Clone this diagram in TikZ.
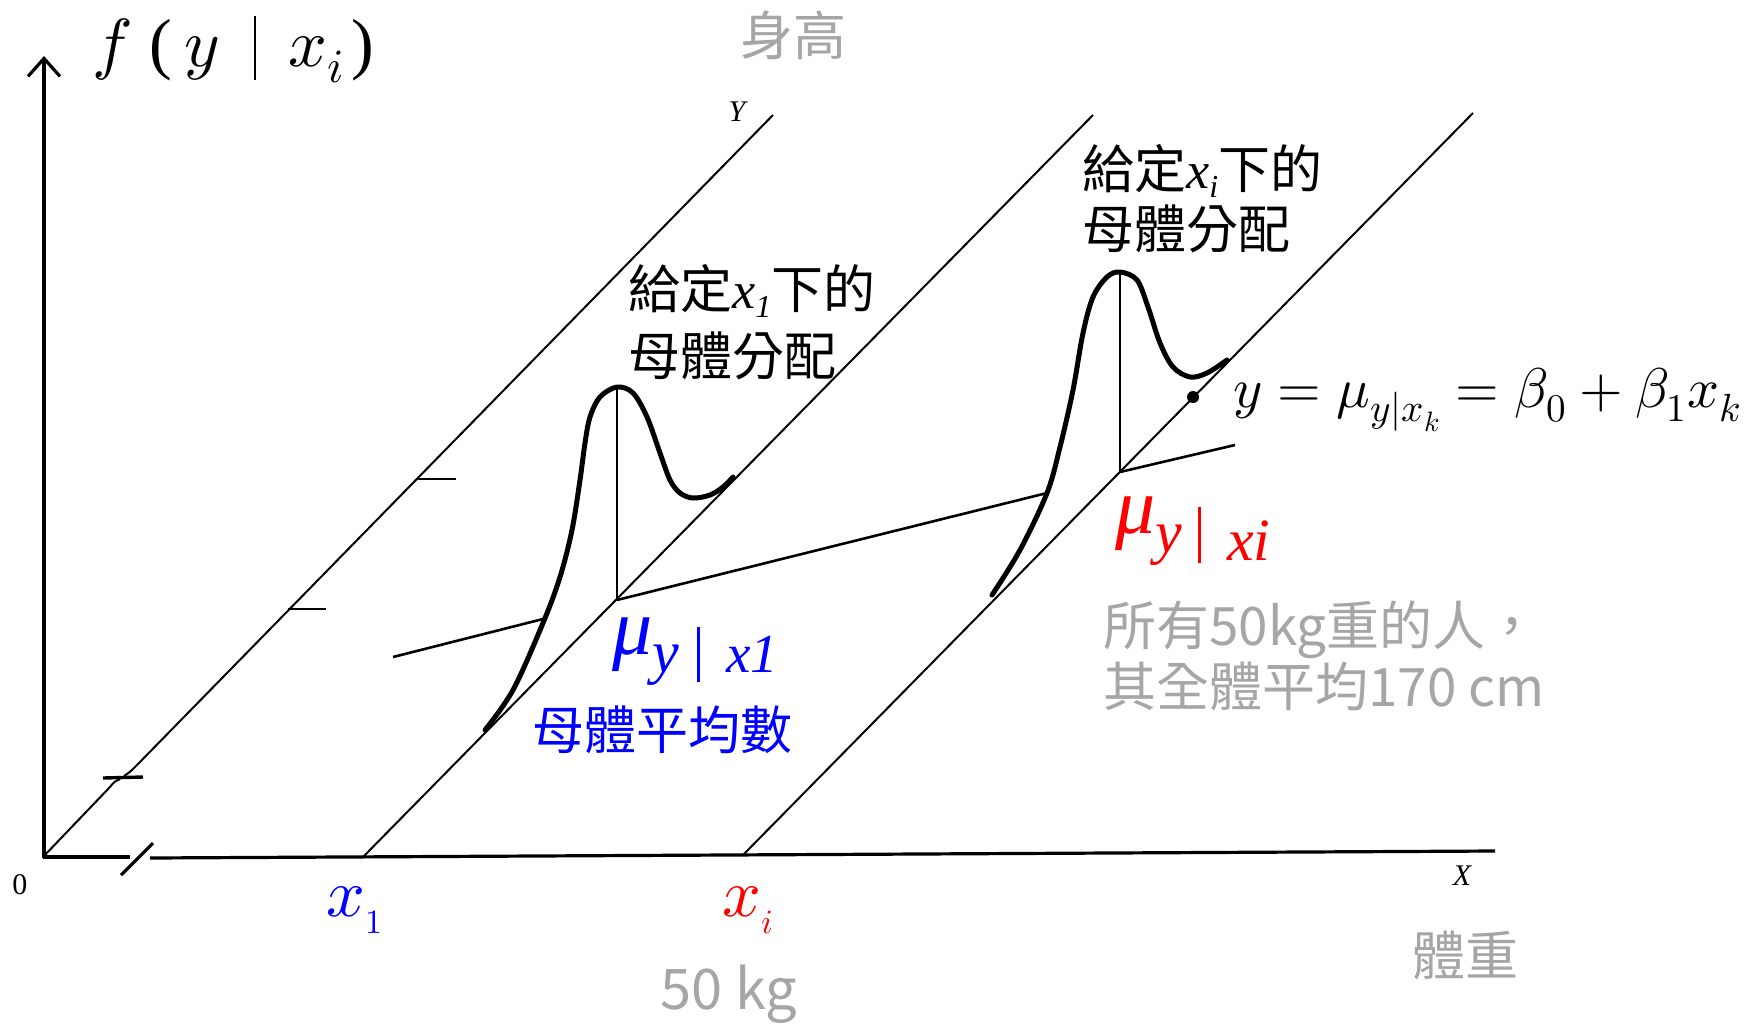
\documentclass[tikz,border=0pt]{standalone}
\usepackage{fontspec}
\usepackage{unicode-math}
\setmainfont{Liberation Serif}
\setmathfont{Latin Modern Math}
\newfontfamily\cjk{Noto Sans CJK TC}
\newcommand\serifit[1]{{\rmfamily\itshape #1}}
\usetikzlibrary{arrows.meta}
\definecolor{lgray}{HTML}{A6A6A6}
\begin{document}
\begin{tikzpicture}[x=1pt,y=-1pt,
  axisln/.style={line width=3.2pt},
  diagln/.style={line width=2pt},
  regln/.style={line width=2.6pt},
  curveln/.style={line width=5pt, line cap=round},
  tickln/.style={line width=2.4pt},
  cjkblk/.style={font=\cjk\fontsize{52}{60}\selectfont, anchor=base west, inner sep=0pt},
  graytxt/.style={font=\cjk\fontsize{53}{60}\selectfont, text=lgray, inner sep=0pt},
  lbl/.style={font=\fontsize{30}{30}\selectfont, inner sep=0pt}]
\useasboundingbox (0,0) rectangle (1752,1028);

% key points
\coordinate (O) at (43,857);
\coordinate (A1) at (363,857);
\coordinate (Ai) at (743,855);
\coordinate (Otop) at (773,115);
\coordinate (A1top) at (1093,115);
\coordinate (Aitop) at (1473,113);
\coordinate (M1) at (617,600);
\coordinate (Mi) at (1120,472);
\coordinate (P1) at (617,388);
\coordinate (Pi) at (1120,272);
\coordinate (R0) at (393,657);
\coordinate (C1) at (547,618);
\coordinate (Ci) at (1047,493);
\coordinate (R1) at (1235,445);

% vertical axis
\draw[axisln, -{Straight Barb[length=18pt,width=32pt]}] (44,858) -- (44,56);
% horizontal axis with break
\draw[axisln] (O) -- (130,857);
\draw[axisln] (150,858) -- (1495,851);
\draw[axisln] (121,875) -- (153,843);

% diagonal Y axis with break
\draw[diagln] (O) -- (110,787) .. controls (114,782) .. (120,779);
\draw[line width=3.4pt] (103,778) -- (143,777);
\draw[diagln] (124,776) .. controls (130,772) .. (137,765) -- (Otop);
\draw[tickln] (416,479) -- (456,479);
\draw[tickln] (288,609) -- (326,609);

% other diagonals
\draw[diagln] (A1) -- (A1top);
\draw[diagln] (Ai) -- (Aitop);

% regression line (hidden behind curves)
\draw[regln] (R0) -- (C1);
\draw[regln] (M1) -- (Ci);
\draw[regln] (Mi) -- (R1);

% vertical lines to peaks
\draw[regln] (M1) -- (P1);
\draw[regln] (Mi) -- (Pi);

% distribution curves
\draw[curveln] plot[smooth, tension=0.55] coordinates {(485,730) (513,690) (543,623) (560,577) (572,530) (580,480) (585,443) (590,417) (600,397) (617,387) (633,393) (647,417) (660,453) (670,480) (680,493) (693,498) (710,495) (723,487) (733,477)};
\draw[curveln] plot[smooth, tension=0.55] coordinates {(992,595) (1020,550) (1047,493) (1060,447) (1073,390) (1083,333) (1093,297) (1107,277) (1120,272) (1137,280) (1148,307) (1160,343) (1173,367) (1190,377) (1207,373) (1227,360)};

% point on the line
\fill (1193,397) circle (6pt);

% axis labels
\node[lbl, font=\fontsize{30}{30}\selectfont\itshape] (ylab) at (737,112) {Y};
\node[lbl, font=\fontsize{30}{30}\selectfont\itshape] (xlab) at (1462,876) {X};
\node[lbl] (zero) at (20,885) {0};

% f(y|x_i)
\node[anchor=base west, inner sep=0pt, font=\fontsize{68}{70}\selectfont] (fy) at (92,66)
 {$f$\hspace{18pt}(\hspace{12pt}$y$\hspace{34pt}\rule[-14pt]{2.6pt}{64pt}\hspace{32pt}$x_i$\hspace{8pt})};

% titles
\node[graytxt] (shengao) at (793,35) {身高};
\node[graytxt] (tizhong) at (1465,955) {體重};
\node[graytxt, font=\cjk\fontsize{56}{60}\selectfont] (kg) at (729,994) {50 kg};

% left annotation
\node[cjkblk] (t1a) at (628,308) {給定\serifit{x}\raisebox{-9pt}{\fontsize{32}{32}\selectfont\serifit{1}}下的};
\node[cjkblk] (t1b) at (628,375) {母體分配};
% right annotation
\node[cjkblk] (tia) at (1082,188) {給定\serifit{x}\raisebox{-9pt}{\fontsize{32}{32}\selectfont\serifit{i}}下的};
\node[cjkblk] (tib) at (1082,248) {母體分配};

% equation
\node[anchor=west, inner sep=0pt, font=\fontsize{56}{60}\selectfont] (eq) at (1233,400)
 {$y=\mu_{y|x_k}=\beta_0+\beta_1x_k$};

% blue mean label
\node[anchor=base west, inner sep=0pt, text=blue] (mu1) at (612,654)
 {{\fontsize{80}{80}\selectfont\textit{μ}}\raisebox{-18pt}{\fontsize{60}{60}\selectfont\textit{y}}\hspace{18pt}\rule[-28pt]{3pt}{55pt}\hspace{26pt}\raisebox{-18pt}{\fontsize{55}{55}\selectfont\textit{x1}}};
\node[cjkblk, anchor=center, text=blue] (mu1txt) at (662,730) {母體平均數};

% red mean label
\node[anchor=base west, inner sep=0pt, text=red] (mui) at (1115,533)
 {{\fontsize{80}{80}\selectfont\textit{μ}}\raisebox{-19pt}{\fontsize{60}{60}\selectfont\textit{y}}\hspace{16pt}\rule[-30pt]{3pt}{56pt}\hspace{26pt}\raisebox{-27pt}{\fontsize{60}{60}\selectfont\textit{xi}}};

% gray explanation
\node[graytxt, anchor=base west] (g1) at (1103,645) {所有50kg重的人，};
\node[graytxt, anchor=base west] (g2) at (1103,706) {其全體平均170 cm};

% x positions
\node[inner sep=0pt, text=blue, font=\fontsize{68}{70}\selectfont] (x1) at (355,910) {$x_{\scriptscriptstyle 1}$};
\node[inner sep=0pt, text=red, font=\fontsize{68}{70}\selectfont] (xi) at (748,910) {$x_{\scriptscriptstyle i}$};
\end{tikzpicture}
\end{document}
